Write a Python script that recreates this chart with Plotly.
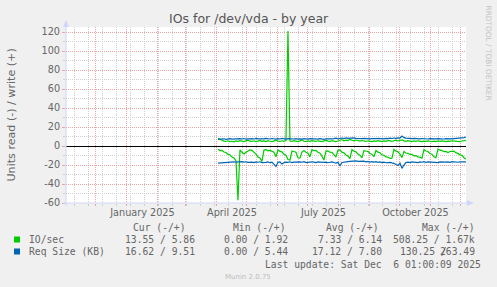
import plotly.graph_objects as go
import pandas as pd

# ---------------- data ----------------
start_date = "2025-04-02"
n_points = 125  # one sample every 2 days, Apr 2 .. Dec 6 2025

io_read = [3.5, 4.8, 4.6, 6.3, 6.8, 8.9, 9.2, 11.6, 12.7, 15.4,
           57, 4.2, 6.6, 8.4, 6.5, 5.4, 4.1, 4.6, 6.4, 8.6,
           11.5, 12.6, 16.2, 4.3, 3.8, 5.0, 4.7, 6.0, 6.6, 11.3,
           4.2, 5.6, 6.1, 8.7, 9.6, 14.2, 14.7, 5.3, 5.9, 6.6,
           12.4, 12.8, 6.4, 4.7, 6.5, 7.6, 11.4, 3.8, 4.9, 4.6,
           6.5, 7.6, 10.5, 14.8, 5.4, 5.1, 6.6, 6.7, 9.0, 11.6,
           4.3, 4.1, 6.5, 7.2, 9.5, 10.6, 13.3, 3.8, 5.4, 6.1,
           8.5, 9.6, 12.4, 4.7, 5.5, 5.7, 7.9, 8.7, 11.3, 4.8,
           6.4, 7.1, 9.4, 9.7, 11.4, 11.6, 12.9, 12.7, 3.6, 5.4,
           6.1, 8.5, 12.2, 5.7, 7.4, 7.7, 8.9, 8.7, 10.3, 10.2,
           11.4, 11.7, 12.8, 3.8, 5.3, 5.8, 7.9, 8.7, 11.4, 12.2,
           3.0, 4.4, 4.8, 5.9, 5.7, 6.8, 5.8, 5.2, 5.3, 7.3,
           7.8, 9.3, 9.8, 12.3, 13.55]

io_write = [8.2, 7.5, 6.0, 5.2, 4.8, 5.5, 4.6, 5.0, 4.4, 5.3, 4.9,
            5.6, 5.0, 4.7, 5.4, 6.2, 5.1, 4.8, 5.5, 4.6, 5.2,
            5.8, 4.9, 5.3, 4.7, 5.6, 5.0, 4.5, 5.4, 6.0, 5.1,
            4.8, 5.5, 5.0, 5.7, 121.0, 5.3, 4.9, 5.6, 5.1, 4.7,
            5.4, 6.3, 5.0, 4.6, 5.3, 4.9, 5.7, 5.2, 4.8, 5.5,
            5.0, 4.6, 5.4, 6.1, 5.2, 4.8, 5.6, 5.1, 4.7, 5.3,
            5.9, 6.8, 5.5, 6.2, 5.7, 7.0, 6.0, 5.4, 6.3, 5.6,
            5.1, 5.8, 5.2, 4.8, 5.5, 5.0, 4.6, 5.3, 4.9, 5.6,
            5.1, 4.7, 5.4, 5.0, 5.8, 5.2, 4.8, 5.5, 6.2, 5.3,
            5.9, 6.5, 5.4, 5.0, 5.6, 5.1, 4.7, 5.3, 4.9, 5.5,
            5.0, 4.6, 5.2, 4.8, 5.4, 4.9, 4.5, 5.1, 4.7, 5.3,
            4.8, 5.4, 5.0, 4.6, 5.2, 4.9, 5.5, 5.1, 4.7, 5.0,
            4.6, 5.3, 5.5, 5.86]

size_read = [18.0, 17.8, 17.5, 17.6, 17.2, 17.0, 16.8, 17.2, 16.6, 16.9, 16.5,
             16.8, 16.4, 17.0, 16.6, 17.3, 16.7, 16.9, 17.5, 16.8, 17.1,
             16.6, 17.4, 16.9, 17.2, 16.8, 17.6, 17.0, 19.5, 21.5, 17.2,
             16.8, 19.0, 17.4, 16.9, 17.2, 16.6, 17.5, 17.0, 16.8, 17.3,
             16.7, 17.1, 16.5, 17.4, 16.9, 17.2, 16.6, 17.0, 17.5, 16.8,
             17.1, 16.6, 17.3, 16.9, 17.6, 17.1, 16.7, 17.4, 18.0, 17.2,
             21.0, 17.3, 16.8, 17.1, 16.5, 16.2, 15.8, 16.0, 15.6, 16.1,
             15.9, 16.4, 16.0, 16.6, 16.2, 16.9, 16.4, 17.0, 16.5, 17.2,
             16.7, 17.4, 16.9, 17.6, 17.1, 17.3, 17.8, 18.2, 19.5, 20.5,
             18.0, 23.5, 20.0, 17.5, 17.0, 17.4, 16.8, 17.2, 16.9, 17.5,
             16.7, 17.1, 16.5, 17.3, 16.8, 17.0, 16.6, 17.2, 16.9, 17.4,
             16.8, 17.1, 16.6, 17.0, 16.7, 17.2, 16.5, 16.9, 16.6, 17.1,
             16.8, 16.5, 16.9, 16.62]

size_write = [7.0, 7.4, 7.2, 7.6, 7.1, 7.5, 7.8, 7.3, 7.6, 7.2, 7.5,
              7.8, 7.4, 7.9, 7.3, 7.6, 7.2, 7.7, 7.4, 8.0, 7.5,
              7.3, 7.8, 7.5, 8.1, 7.6, 7.4, 7.9, 7.5, 7.2, 7.7,
              7.4, 8.0, 7.6, 7.3, 7.8, 7.5, 7.9, 7.4, 7.7, 7.2,
              7.6, 7.3, 7.8, 7.5, 7.2, 7.7, 7.4, 7.9, 7.6, 7.3,
              7.8, 7.5, 7.1, 7.6, 7.4, 7.9, 7.5, 7.7, 8.2, 7.6,
              7.9, 8.4, 7.8, 8.6, 8.0, 8.3, 7.9, 8.5, 8.1, 7.8,
              8.2, 7.7, 8.0, 7.6, 7.9, 7.5, 7.8, 7.4, 7.7, 8.0,
              7.6, 7.9, 7.5, 8.1, 7.7, 8.3, 7.9, 8.4, 8.0, 8.6,
              8.2, 10.5, 8.8, 8.3, 7.9, 8.2, 7.8, 8.1, 7.7, 8.0,
              7.6, 7.9, 7.5, 7.8, 7.4, 7.7, 7.5, 7.9, 7.6, 7.8,
              7.5, 7.7, 7.4, 7.8, 7.6, 7.9, 7.5, 7.8, 8.0, 8.3,
              8.1, 8.6, 8.9, 9.51]

x_label_text = ["January 2025", "April 2025", "July 2025", "October 2025"]
x_label_dates = ["2025-01-16 12:00", "2025-04-16", "2025-07-16 12:00", "2025-10-16 12:00"]
y_tick_vals = [-60, -40, -20, 0, 20, 40, 60, 80, 100, 120]
y_tick_text = ["-60", "-40", "-20", "0", "20", "40", "60", "80", "100", "120"]
y_minor_vals = [-50, -30, -10, 10, 30, 50, 70, 90, 110]

legend_header = ["Cur (-/+)", "Min (-/+)", "Avg (-/+)", "Max (-/+)"]
legend_names = ["IO/sec", "Req Size (KB)"]
legend_rows = [["13.55 / 5.86", "0.00 / 1.92", "7.33 / 6.14", "508.25 / 1.67k"],
               ["16.62 / 9.51", "0.00 / 5.44", "17.12 / 7.80", "130.25 /"]]
legend_overlap = "263.49"
last_update = "Last update: Sat Dec  6 01:00:09 2025"

# ---------------- styling ----------------
W, H = 497, 287
L, R, T, B = 66, 466, 27, 203   # plot area in px
GREEN = "#00CC00"
BLUE = "#0066B3"
FONT_C = "#666666"
AXIS_C = "#CFD6F8"
MGRID = "#EBA3A3"
GRID = "#CFCFCF"
SANS = "DejaVu Sans"
MONO = "DejaVu Sans Mono"

x0 = pd.Timestamp("2024-11-01 01:00")
x1 = pd.Timestamp("2025-12-06 01:00")
dates = pd.date_range(start_date, periods=n_points, freq="2D")
month_starts = pd.date_range("2024-12-01", "2025-12-01", freq="MS")
biweekly = pd.date_range("2024-11-10", "2025-12-06", freq="14D")


def fx(px):
    return (px - L) / (R - L)


def fy(py):
    return (B - py) / (B - T)


fig = go.Figure()
fig.add_trace(go.Scatter(x=dates, y=[-v for v in io_read], mode="lines",
                         line=dict(color=GREEN, width=1.2), showlegend=False))
fig.add_trace(go.Scatter(x=dates, y=io_write, mode="lines",
                         line=dict(color=GREEN, width=1.2), showlegend=False))
fig.add_trace(go.Scatter(x=dates, y=[-v for v in size_read], mode="lines",
                         line=dict(color=BLUE, width=1.2), showlegend=False))
fig.add_trace(go.Scatter(x=dates, y=size_write, mode="lines",
                         line=dict(color=BLUE, width=1.2), showlegend=False))
# carrier for the label axis
fig.add_trace(go.Scatter(x=[x_label_dates[0]], y=[None], xaxis="x2",
                         showlegend=False, hoverinfo="skip"))

fig.update_layout(
    width=W, height=H,
    margin=dict(l=L, r=W - R, t=T, b=H - B, pad=0),
    paper_bgcolor="#F0F0F0", plot_bgcolor="#FFFFFF",
    showlegend=False,
    xaxis=dict(type="date", range=[x0, x1], tickmode="array", tickvals=list(month_starts),
               showticklabels=False, showgrid=True, gridcolor=MGRID, griddash="1px,1px",
               gridwidth=1, ticks="outside", ticklen=2, tickcolor=MGRID, showline=False,
               zeroline=False,
               minor=dict(tickmode="array", tickvals=list(biweekly), showgrid=True,
                          gridcolor=GRID, griddash="1px,1px", gridwidth=1,
                          ticks="outside", ticklen=2, tickcolor=GRID)),
    xaxis2=dict(type="date", range=[x0, x1], overlaying="x", side="bottom", anchor="y",
                tickmode="array", tickvals=x_label_dates, ticktext=x_label_text,
                showgrid=False, ticks="", showline=False, zeroline=False,
                ticklabelstandoff=2,
                tickfont=dict(family=SANS, size=9.7, color=FONT_C)),
    yaxis=dict(range=[-60, 125.3], tickmode="array", tickvals=y_tick_vals, ticktext=y_tick_text,
               showgrid=True, gridcolor=MGRID, griddash="1px,1px", gridwidth=1,
               ticks="outside", ticklen=3, tickcolor=MGRID, showline=False,
               zeroline=True, zerolinecolor="#000000", zerolinewidth=1.3,
               tickfont=dict(family=SANS, size=9.7, color=FONT_C),
               minor=dict(tickmode="array", tickvals=y_minor_vals, showgrid=True,
                          gridcolor=GRID, griddash="1px,1px", gridwidth=1,
                          ticks="outside", ticklen=2, tickcolor=GRID)),
)

shapes = []
# axis lines with arrows
shapes.append(dict(type="line", xref="paper", yref="paper", x0=fx(L), x1=fx(L),
                   y0=fy(B + 3), y1=fy(23), line=dict(color=AXIS_C, width=1)))
shapes.append(dict(type="line", xref="paper", yref="paper", x0=fx(L - 3), x1=fx(R + 4),
                   y0=fy(B), y1=fy(B), line=dict(color=AXIS_C, width=1)))
shapes.append(dict(type="path", xref="paper", yref="paper",
                   path=f"M {fx(L-3)} {fy(27)} L {fx(L)} {fy(20)} L {fx(L+3)} {fy(27)} Z",
                   fillcolor=AXIS_C, line=dict(color=AXIS_C, width=0)))
shapes.append(dict(type="path", xref="paper", yref="paper",
                   path=f"M {fx(R+1)} {fy(B-3)} L {fx(R+8)} {fy(B)} L {fx(R+1)} {fy(B+3)} Z",
                   fillcolor=AXIS_C, line=dict(color=AXIS_C, width=0)))
# legend colour boxes
for row_y, col in zip([239.5, 251.5], [GREEN, BLUE]):
    shapes.append(dict(type="rect", xref="paper", yref="paper",
                       x0=fx(14), x1=fx(20), y0=fy(row_y + 3), y1=fy(row_y - 3),
                       fillcolor=col, line=dict(width=0)))
fig.update_layout(shapes=shapes)

ann = []


def add_text(txt, px, py, anchor="left", size=9.7, family=MONO, color=FONT_C, angle=0):
    ann.append(dict(text=txt, xref="paper", yref="paper", x=fx(px), y=fy(py),
                    xanchor=anchor, yanchor="middle", showarrow=False, textangle=angle,
                    font=dict(family=family, size=size, color=color)))


add_text("IOs for /dev/vda - by year", 248.5, 18.5, anchor="center", size=12.5,
         family=SANS, color="#555555")
add_text("Units read (-) / write (+)", 10.5, 115, anchor="center", size=11.1,
         family=SANS, angle=-90)
add_text("RRDTOOL / TOBI OETIKER", 488.5, 53, anchor="center", size=7.4,
         family=SANS, color="#C4C4C4", angle=90)

header_ends = [187.5, 287.5, 380.5, 476.5]
value_ends = [197, 290, 383.5, 477]
for h, xe in zip(legend_header, header_ends):
    add_text(h, xe, 227.7, anchor="right")
for r, (name, row) in enumerate(zip(legend_names, legend_rows)):
    yy = 239.5 + 12 * r
    add_text(name, 26.5, yy)
    for v, xe in zip(row, value_ends):
        if v.endswith("/"):
            add_text(v, 398.3, yy, anchor="left")
        else:
            add_text(v, xe, yy, anchor="right")
add_text(legend_overlap, value_ends[3], 251.5, anchor="right")
add_text(last_update, 482.5, 264, anchor="right")
add_text("Munin 2.0.75", 248, 276.5, anchor="center", size=7.0, family=SANS, color="#BDBDBD")

fig.update_layout(annotations=ann)
fig.write_html("out.html")
